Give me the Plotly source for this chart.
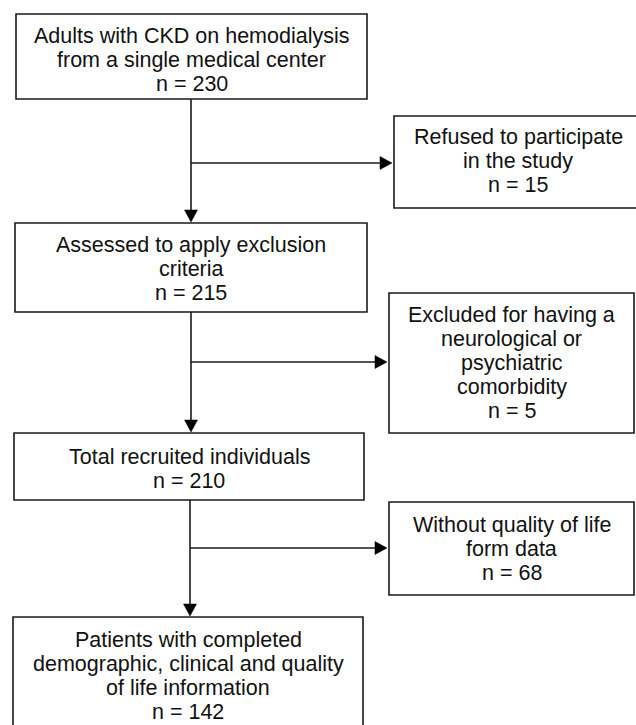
import plotly.graph_objects as go

# ---- content (data) ----
main_labels = [
    ["Adults with CKD on hemodialysis", "from a single medical center"],
    ["Assessed to apply exclusion", "criteria"],
    ["Total recruited individuals"],
    ["Patients with completed", "demographic, clinical and quality", "of life information"],
]
main_n = [230, 215, 210, 142]

side_labels = [
    ["Refused to participate", "in the study"],
    ["Excluded for having a", "neurological or", "psychiatric", "comorbidity"],
    ["Without quality of life", "form data"],
]
side_n = [15, 5, 68]

# ---- layout geometry (pixels, y downwards) ----
main_boxes = [(16, 14, 367, 99), (15, 223, 367, 312), (14, 433, 364, 500), (13, 617, 363, 740)]
main_text_y0 = [36, 245, 457, 640]
side_boxes = [(394, 116, 642, 208), (389, 293, 634, 433), (389, 502, 634, 595)]
side_text_y0 = [137, 315, 525]
trunk_x = [191, 191, 190]
branch_y = [163, 362, 548]
LINE_H = 24
FONT = dict(family="Liberation Sans, Arial, sans-serif", size=21.5, color="#111111")
LC = "#1a1a1a"

fig = go.Figure()
shapes = []
annotations = []


def add_box(box, lines, y0):
    x0, ya, x1, yb = box
    shapes.append(dict(type="rect", x0=x0, y0=ya, x1=x1, y1=yb,
                       line=dict(color=LC, width=1.6), fillcolor="rgba(0,0,0,0)"))
    cx = (x0 + x1) / 2
    for i, t in enumerate(lines):
        annotations.append(dict(x=cx, y=y0 + i * LINE_H, text=t, showarrow=False,
                                xanchor="center", yanchor="middle", font=FONT))


for box, lab, n, y0 in zip(main_boxes, main_labels, main_n, main_text_y0):
    add_box(box, lab + [f"n = {n}"], y0)
for box, lab, n, y0 in zip(side_boxes, side_labels, side_n, side_text_y0):
    add_box(box, lab + [f"n = {n}"], y0)

AH_L = 12
AH_W = 6.5
for i in range(3):
    x = trunk_x[i]
    top = main_boxes[i][3]
    tip = main_boxes[i + 1][1] - 1
    shapes.append(dict(type="line", x0=x, y0=top, x1=x, y1=tip - AH_L,
                       line=dict(color=LC, width=1.6)))
    shapes.append(dict(type="path",
                       path=f"M {x-AH_W},{tip-AH_L} L {x+AH_W},{tip-AH_L} L {x},{tip} Z",
                       fillcolor="black", line=dict(color="black", width=0.5)))
    by = branch_y[i]
    htip = side_boxes[i][0] - 2
    shapes.append(dict(type="line", x0=x, y0=by, x1=htip - AH_L, y1=by,
                       line=dict(color=LC, width=1.6)))
    shapes.append(dict(type="path",
                       path=f"M {htip-AH_L},{by-AH_W} L {htip-AH_L},{by+AH_W} L {htip},{by} Z",
                       fillcolor="black", line=dict(color="black", width=0.5)))

fig.update_layout(
    width=636, height=725,
    margin=dict(l=0, r=0, t=0, b=0),
    paper_bgcolor="white", plot_bgcolor="white",
    xaxis=dict(range=[0, 636], visible=False, fixedrange=True),
    yaxis=dict(range=[725, 0], visible=False, fixedrange=True),
    shapes=shapes, annotations=annotations, showlegend=False,
)
fig.write_html(
    "out.html",
    config={"displayModeBar": False},
    post_script="document.body.style.margin='0';document.body.style.overflow='hidden';",
)
